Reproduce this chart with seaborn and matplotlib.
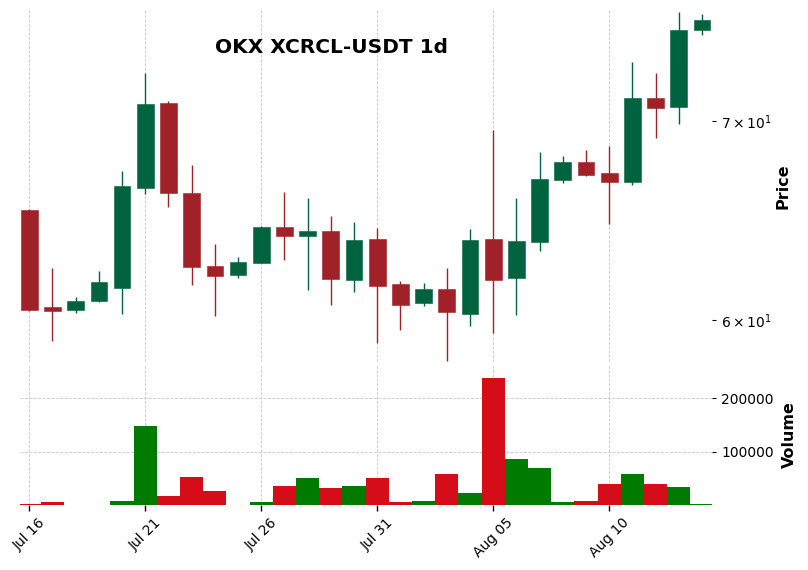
import matplotlib
matplotlib.use("Agg")
import matplotlib.pyplot as plt
import matplotlib.ticker as mticker
import seaborn as sns
import numpy as np
import pandas as pd


dates = pd.date_range("2025-07-16", periods=30, freq="D")

opens = [65.38, 60.62, 60.47, 60.89, 61.53, 66.46, 71.01, 66.24, 62.58, 62.14,
         62.72, 64.51, 64.06, 64.31, 61.90, 63.92, 61.72, 60.80, 61.48, 60.31,
         63.92, 62.01, 63.77, 66.91, 67.85, 67.23, 66.81, 71.28, 70.77, 75.14]
highs = [65.40, 62.49, 61.08, 62.33, 67.34, 72.65, 71.12, 67.68, 63.67, 63.03,
         64.54, 66.25, 65.99, 65.03, 64.74, 64.47, 61.88, 61.77, 62.49, 64.39,
         69.55, 65.96, 68.35, 68.16, 68.48, 68.66, 73.31, 72.65, 76.18, 76.06]
lows = [60.42, 59.06, 60.34, 60.85, 60.31, 66.17, 65.52, 61.69, 60.19, 61.98,
        62.72, 62.85, 61.45, 60.74, 61.34, 58.95, 59.57, 60.66, 58.16, 59.72,
        59.41, 60.27, 63.31, 66.72, 67.08, 64.67, 66.63, 69.12, 69.88, 74.85]
closes = [60.47, 60.42, 60.89, 61.80, 66.60, 70.93, 66.24, 62.53, 62.09, 62.77,
          64.51, 64.06, 64.31, 61.96, 63.86, 61.61, 60.74, 61.48, 60.37, 63.86,
          61.90, 63.81, 66.96, 67.85, 67.13, 66.81, 71.28, 70.71, 75.14, 75.73]
volumes = [1500, 6800, 200, 1200, 8700, 148400, 18000, 53400, 27300, 1200,
           6800, 36600, 51500, 32900, 36600, 51500, 6800, 8700, 59000, 23600,
           237900, 87000, 70200, 6800, 8700, 40400, 59000, 40400, 34800, 3100]

tick_idx = [0, 5, 10, 15, 20, 25]

df = pd.DataFrame({"Open": opens, "High": highs, "Low": lows,
                   "Close": closes, "Volume": volumes})
df["i"] = np.arange(len(df))
df["dir"] = np.where(df["Close"] >= df["Open"], "up", "down")

sns.set_style("white")
plt.rcParams["font.family"] = ["DejaVu Sans"]
plt.rcParams.update({"text.color": "black", "axes.labelcolor": "black",
                     "xtick.color": "black", "ytick.color": "black"})

fig = plt.figure(figsize=(8.08, 5.70), dpi=100)
ax = fig.add_axes([0.02475, 0.3649, 0.8564, 0.6176])
axv = fig.add_axes([0.02475, 0.1140, 0.8564, 0.2456], sharex=ax)

candle = {"up": "#006340", "down": "#a02128"}
volc = {"up": "#007a00", "down": "#d50d18"}

# wicks and bodies
ax.vlines(df["i"], df["Low"], df["High"], colors=df["dir"].map(candle),
          linewidth=1.0, zorder=2)
ax.bar(df["i"], df["Close"] - df["Open"], bottom=df["Open"], width=0.72,
       color=df["dir"].map(candle), edgecolor=df["dir"].map(candle),
       linewidth=0.4, zorder=3)
ax.set_yscale("log")
ax.set_ylim(58.1, 76.3)

sns.barplot(data=df, x="i", y="Volume", hue="dir", palette=volc,
            native_scale=True, width=1.0, dodge=False, legend=False,
            saturation=1, ax=axv, linewidth=0)
axv.set_ylim(300, 262000)
axv.set_xlim(-0.4, 29.43)

for a in (ax, axv):
    for s in a.spines.values():
        s.set_visible(False)
    a.yaxis.tick_right()
    a.yaxis.set_label_position("right")
    a.grid(True, which="major", linestyle="--", linewidth=0.6, color="#c8c8c8")
    a.tick_params(axis="y", which="both", labelsize=10, length=3, width=0.8,
                  right=True, left=False)
    a.set_axisbelow(True)

ax.tick_params(axis="x", bottom=False, labelbottom=False)
ax.set_ylabel("Price", fontsize=11.5, fontweight="bold", labelpad=3)
axv.set_ylabel("Volume", fontsize=11.5, fontweight="bold", labelpad=6)
axv.set_xlabel("")
axv.yaxis.set_major_formatter(mticker.FormatStrFormatter("%d"))
axv.set_yticks([100000, 200000])

axv.set_xticks(tick_idx)
axv.set_xticklabels([dates[k].strftime("%b %d") for k in tick_idx],
                    rotation=45, ha="center", fontsize=10)
axv.tick_params(axis="x", bottom=True, length=4, width=1)

fig.text(0.41, 0.9175, "OKX XCRCL-USDT 1d", ha="center", va="center",
         fontsize=14.5, fontweight="bold")

fig.savefig("out.png", dpi=100)
